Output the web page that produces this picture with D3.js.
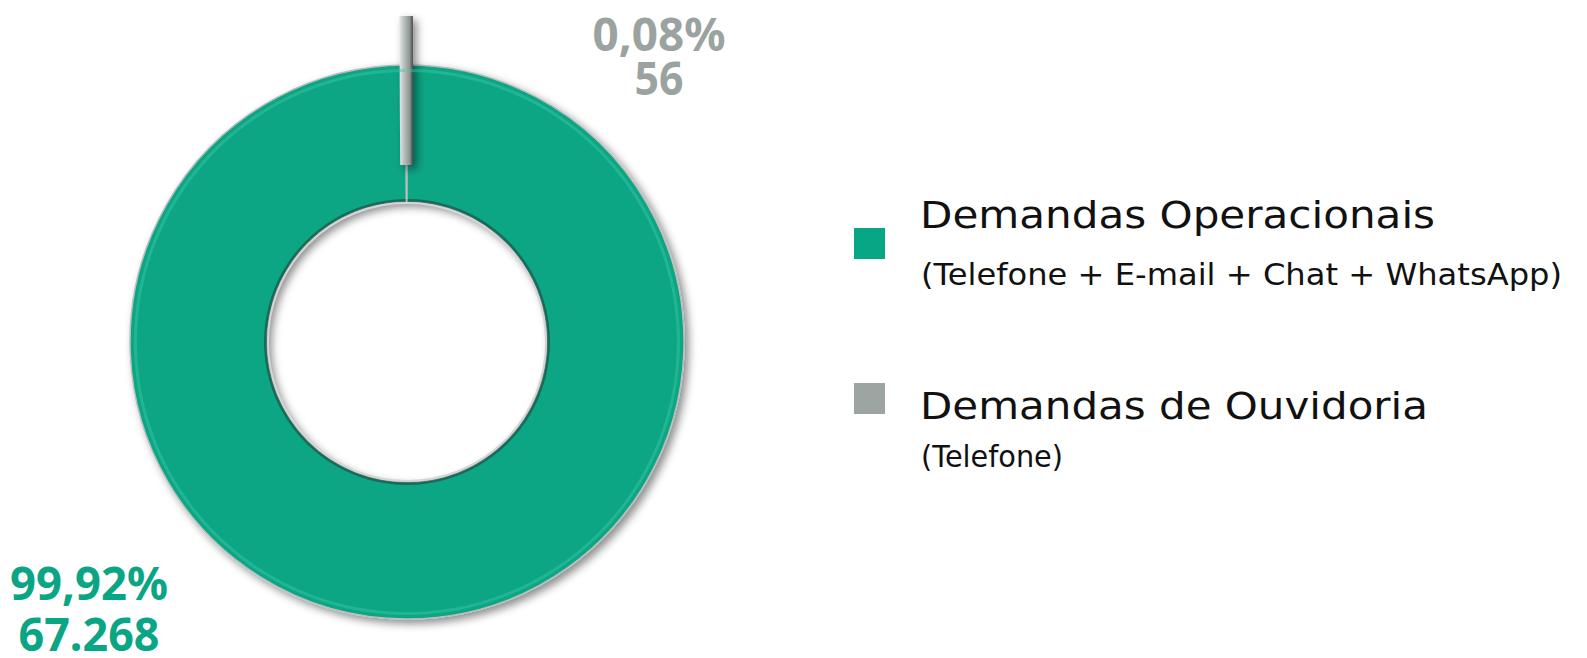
<!DOCTYPE html>
<html>
<head>
<meta charset="utf-8">
<script src="https://cdn.jsdelivr.net/npm/d3@7"></script>
<style>
  html, body { margin: 0; padding: 0; background: #fff; }
  #wrapper { width: 1587px; height: 658px; }
</style>
</head>
<body>
<div id="wrapper"></div>
<script>
const categories = ["Demandas Operacionais", "Demandas de Ouvidoria"];
const subLabels = ["(Telefone + E-mail + Chat + WhatsApp)", "(Telefone)"];
const values = [67268, 56];
const colors = ["#07a685", "#9ca5a2"];
const labelColors = ["#0aa585", "#9aa3a0"];

const ptBR = d3.formatLocale({ decimal: ",", thousands: ".", grouping: [3], currency: ["R$", ""] });
const fmtPct = ptBR.format(".2%");
const fmtNum = ptBR.format(",");

window.onload = drawDonut;

function drawDonut() {
  const dimensions = {
    width: 1587,
    height: 658,
    cx: 407,
    cy: 342,
    outer: 277,
    inner: 140,
    explode: 43
  };

  const wrapper = d3.select("#wrapper")
    .append("svg")
    .attr("width", dimensions.width)
    .attr("height", dimensions.height);

  const defs = wrapper.append("defs");
  const shadow = defs.append("filter")
    .attr("id", "shadow")
    .attr("filterUnits", "userSpaceOnUse")
    .attr("x", -400).attr("y", -400)
    .attr("width", 800).attr("height", 800);
  shadow.append("feDropShadow")
    .attr("dx", 4).attr("dy", 4)
    .attr("stdDeviation", 4)
    .attr("flood-color", "#000")
    .attr("flood-opacity", 0.45);

  // bevel look for the small exploded slice (coords are inside the translated group)
  const bevel = defs.append("linearGradient")
    .attr("id", "bevel")
    .attr("gradientUnits", "userSpaceOnUse")
    .attr("x1", -7).attr("x2", 7)
    .attr("y1", 0).attr("y2", 0);
  bevel.append("stop").attr("offset", "0%").attr("stop-color", "#dfe4e2");
  bevel.append("stop").attr("offset", "30%").attr("stop-color", "#b8c0bd");
  bevel.append("stop").attr("offset", "70%").attr("stop-color", "#8d9693");
  bevel.append("stop").attr("offset", "100%").attr("stop-color", "#2c312f");

  const pie = d3.pie().sort(null).value(d => d);
  const arcs = pie(values);
  const total = d3.sum(values);

  const arc = d3.arc()
    .innerRadius(dimensions.inner)
    .outerRadius(dimensions.outer);

  const bounds = wrapper.append("g")
    .attr("transform", `translate(${dimensions.cx}, ${dimensions.cy})`);

  // slices
  bounds.selectAll("path.slice")
    .data(arcs)
    .enter()
    .append("path")
    .attr("class", "slice")
    .attr("d", arc)
    .attr("transform", (d, i) => {
      if (i === 0) return null;
      const mid = (d.startAngle + d.endAngle) / 2;
      return `translate(${Math.sin(mid) * dimensions.explode}, ${-Math.cos(mid) * dimensions.explode})`;
    })
    .attr("fill", (d, i) => i === 0 ? colors[0] : "url(#bevel)")
    .attr("stroke", (d, i) => i === 0 ? "#b9bfbd" : "url(#bevel)")
    .attr("stroke-width", (d, i) => i === 0 ? 1.5 : 12)
    .attr("stroke-linejoin", "miter")
    .attr("filter", "url(#shadow)");

  // highlight near outer rim and dark edge along the hole
  const green = arcs[0];
  bounds.append("path")
    .attr("d", d3.arc()
      .innerRadius(dimensions.outer - 7)
      .outerRadius(dimensions.outer - 4)
      .startAngle(green.startAngle + 0.002)
      .endAngle(green.endAngle - 0.002)())
    .attr("fill", "#3cc7a7")
    .attr("opacity", 0.45);
  bounds.append("path")
    .attr("d", d3.arc()
      .innerRadius(dimensions.inner)
      .outerRadius(dimensions.inner + 3)
      .startAngle(green.startAngle + 0.004)
      .endAngle(green.endAngle - 0.004)())
    .attr("fill", "#1c3d34")
    .attr("opacity", 0.55);
  bounds.append("circle")
    .attr("r", dimensions.inner - 1)
    .attr("fill", "none")
    .attr("stroke", "#d4d6d5")
    .attr("stroke-width", 2);

  // data labels: percentage on top, count below
  const labelPos = [
    { x: 89, y1: 600, dy: 51, w1: 158, w2: 141 },
    { x: 659, y1: 51, dy: 44, w1: 133, w2: 49 }
  ];
  values.forEach((v, i) => {
    const p = labelPos[i];
    const t = wrapper.append("text")
      .attr("font-family", "'Noto Sans', sans-serif")
      .attr("font-weight", 700)
      .attr("font-size", 47)
      .attr("fill", labelColors[i])
      .attr("text-anchor", "middle")
      .attr("lengthAdjust", "spacingAndGlyphs");
    t.append("tspan")
      .attr("x", p.x).attr("y", p.y1)
      .attr("textLength", p.w1)
      .attr("lengthAdjust", "spacingAndGlyphs")
      .text(fmtPct(v / total));
    t.append("tspan")
      .attr("x", p.x).attr("y", p.y1 + p.dy)
      .attr("textLength", p.w2)
      .attr("lengthAdjust", "spacingAndGlyphs")
      .text(fmtNum(v));
  });

  // legend
  const legendPos = [
    { y: 228, t1: 228, t2: 285, w1: 515, w2: 641 },
    { y: 383, t1: 419, t2: 467, w1: 508, w2: 142 }
  ];
  const legend = wrapper.append("g")
    .attr("font-family", "'DejaVu Sans', sans-serif")
    .attr("fill", "#111");
  categories.forEach((c, i) => {
    const p = legendPos[i];
    legend.append("rect")
      .attr("x", 854).attr("y", p.y)
      .attr("width", 31).attr("height", 31)
      .attr("fill", colors[i]);
    legend.append("text")
      .attr("x", 920).attr("y", p.t1)
      .attr("font-size", 38)
      .attr("textLength", p.w1)
      .attr("lengthAdjust", "spacingAndGlyphs")
      .text(c);
    legend.append("text")
      .attr("x", 921).attr("y", p.t2)
      .attr("font-size", 30)
      .attr("textLength", p.w2)
      .attr("lengthAdjust", "spacingAndGlyphs")
      .text(subLabels[i]);
  });
}
</script>
</body>
</html>
